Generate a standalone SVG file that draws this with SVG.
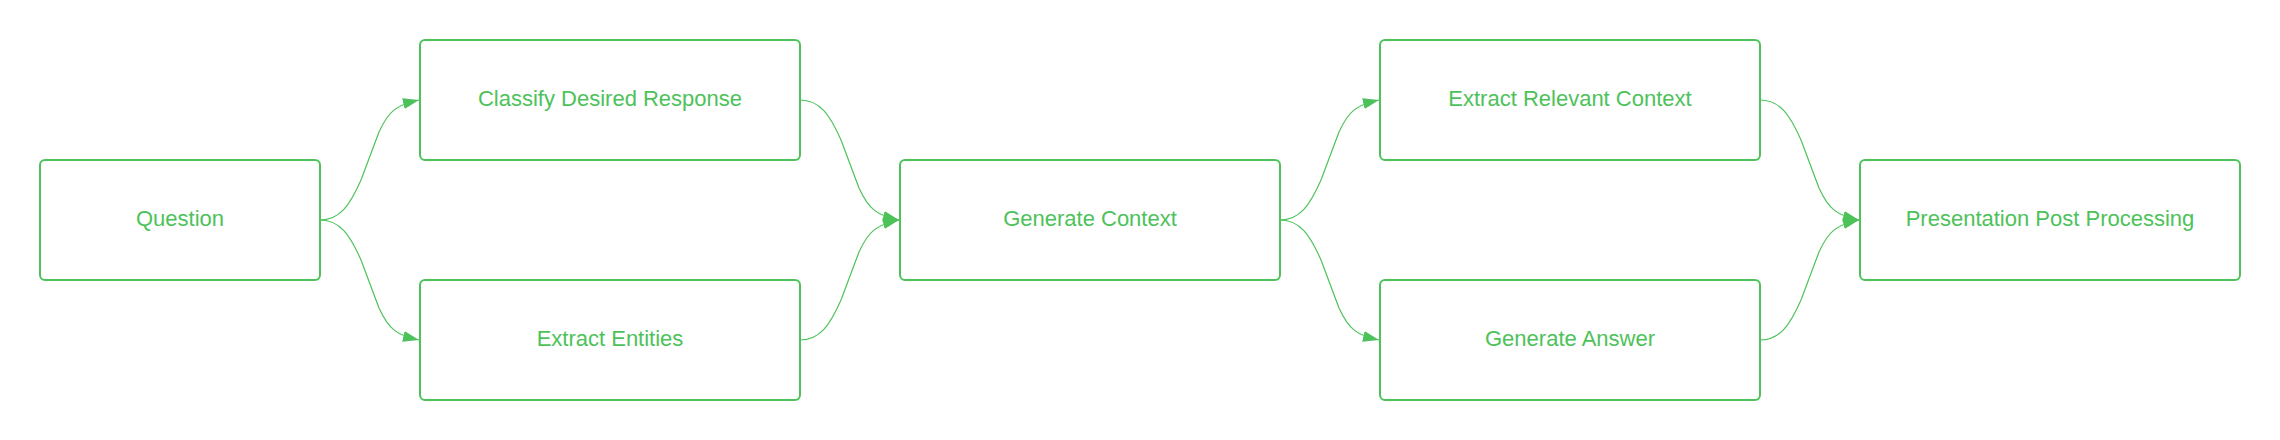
<svg xmlns="http://www.w3.org/2000/svg" width="2280" height="440" viewBox="0 0 2280 440">
<style>
.box{fill:#ffffff;stroke:#4DC25A;stroke-width:2}
.lbl{font-family:"Liberation Sans",Arial,sans-serif;font-size:22px;fill:#4DC25A;text-anchor:middle}
.con{fill:none;stroke:#4DC25A;stroke-width:1.2}
</style>
<defs>
<marker id="ah" markerUnits="userSpaceOnUse" markerWidth="18" markerHeight="14" refX="16" refY="5.5" orient="auto">
<path d="M0,0 L16,5.5 L0,11 z" fill="#4DC25A"/>
</marker>
</defs>
<rect width="2280" height="440" fill="#ffffff"/>
<g id="connectors">
<path class="con" marker-end="url(#ah)" d="M320,220 C340,220 350,205 361,180 L379,132 C389,110 397,105 419,100"/>
<path class="con" marker-end="url(#ah)" d="M320,220 C340,220 350,235 361,260 L379,308 C389,330 397,335 419,340"/>
<path class="con" marker-end="url(#ah)" d="M800,100 C820,100 830,115 841,140 L859,188 C869,210 877,215 899,220"/>
<path class="con" marker-end="url(#ah)" d="M800,340 C820,340 830,325 841,300 L859,252 C869,230 877,225 899,220"/>
<path class="con" marker-end="url(#ah)" d="M1280,220 C1300,220 1310,205 1321,180 L1339,132 C1349,110 1357,105 1379,100"/>
<path class="con" marker-end="url(#ah)" d="M1280,220 C1300,220 1310,235 1321,260 L1339,308 C1349,330 1357,335 1379,340"/>
<path class="con" marker-end="url(#ah)" d="M1760,100 C1780,100 1790,115 1801,140 L1819,188 C1829,210 1837,215 1859,220"/>
<path class="con" marker-end="url(#ah)" d="M1760,340 C1780,340 1790,325 1801,300 L1819,252 C1829,230 1837,225 1859,220"/>
</g>
<g id="question">
<rect class="box" x="40" y="160" width="280" height="120" rx="5"/>
<text class="lbl" x="180" y="226">Question</text>
</g>
<g id="classify">
<rect class="box" x="420" y="40" width="380" height="120" rx="5"/>
<text class="lbl" x="610" y="106">Classify Desired Response</text>
</g>
<g id="entities">
<rect class="box" x="420" y="280" width="380" height="120" rx="5"/>
<text class="lbl" x="610" y="346">Extract Entities</text>
</g>
<g id="gencontext">
<rect class="box" x="900" y="160" width="380" height="120" rx="5"/>
<text class="lbl" x="1090" y="226">Generate Context</text>
</g>
<g id="relevant">
<rect class="box" x="1380" y="40" width="380" height="120" rx="5"/>
<text class="lbl" x="1570" y="106">Extract Relevant Context</text>
</g>
<g id="answer">
<rect class="box" x="1380" y="280" width="380" height="120" rx="5"/>
<text class="lbl" x="1570" y="346">Generate Answer</text>
</g>
<g id="presentation">
<rect class="box" x="1860" y="160" width="380" height="120" rx="5"/>
<text class="lbl" x="2050" y="226">Presentation Post Processing</text>
</g>
</svg>
